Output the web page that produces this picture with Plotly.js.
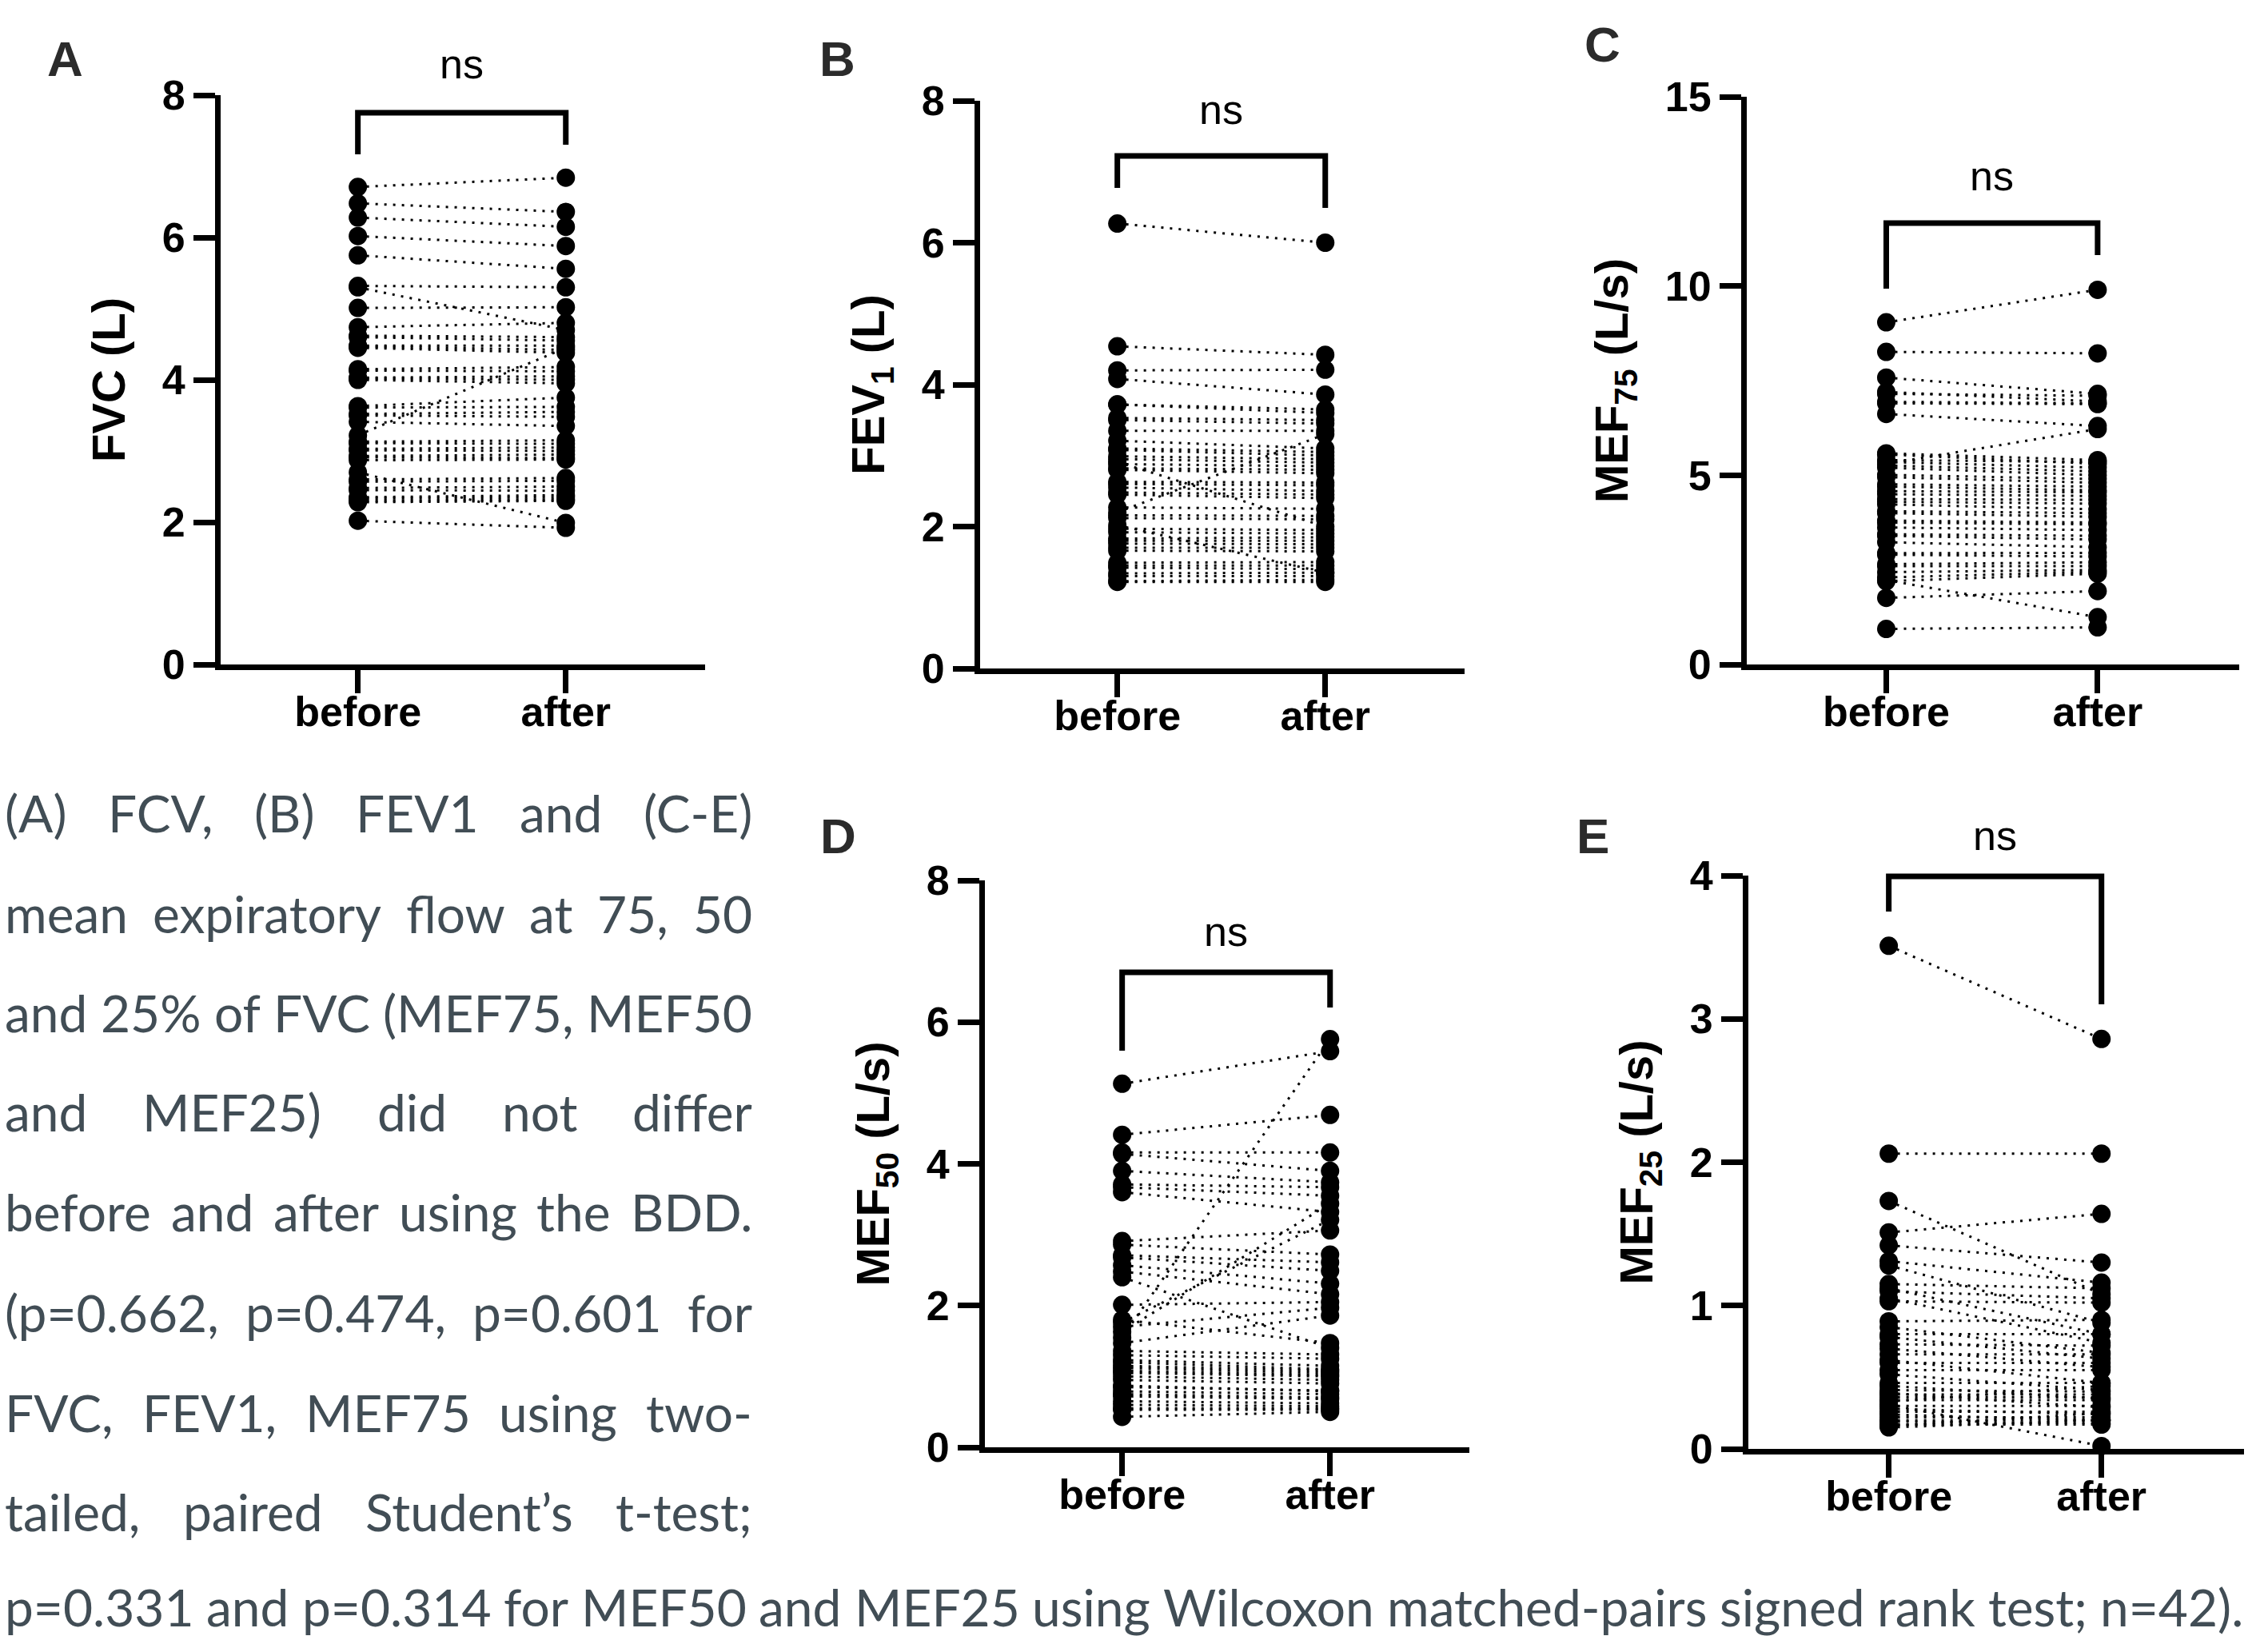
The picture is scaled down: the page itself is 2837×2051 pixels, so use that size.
<!DOCTYPE html>
<html>
<head>
<meta charset="utf-8">
<script src="https://cdn.plot.ly/plotly-3.0.1.min.js"></script>
<style>html,body{margin:0;padding:0;background:#fff;}</style>
</head>
<body>
<div id="chart" style="width:2837px;height:2051px;"></div>
<svg id="meas" width="10" height="10" style="position:absolute;left:-9999px;top:0;"><text id="measText" x="0" y="5"></text></svg>
<script>
// ---------------- DATA ----------------
const groups = ['before', 'after'];

const fvcBefore = [6.71, 6.48, 6.28, 6.02, 5.75, 5.32, 5.30, 5.01,
  4.74, 4.62, 4.60, 4.48, 4.47, 4.45,
  4.15, 4.13, 4.03, 4.02, 4.00,
  3.63, 3.61, 3.52, 3.50, 3.41,
  3.22, 3.13, 3.11, 3.03, 3.01, 2.93, 2.91, 2.87,
  2.70, 2.60, 2.57, 2.48, 2.45, 2.35, 2.33, 2.30, 2.28,
  2.02];
const fvcAfter = [6.84, 6.36, 6.15, 5.88, 5.56, 5.30, 4.70, 5.02,
  4.80, 4.60, 4.55, 4.48, 4.42, 4.38,
  4.18, 4.12, 4.05, 4.00, 3.95,
  3.75, 3.62, 3.55, 3.48, 3.35,
  4.45, 3.15, 3.10, 3.05, 3.00, 2.95, 2.90, 2.88,
  1.99, 2.62, 2.58, 2.50, 2.44, 2.38, 2.35, 2.32, 2.30,
  1.92];

const fev1Before = [6.27, 4.54, 4.20, 4.08,
  3.72, 3.72, 3.53, 3.50, 3.35, 3.21, 3.10, 3.08, 2.99, 2.95,
  2.91, 2.88, 2.82, 2.80, 2.63, 2.60, 2.55, 2.48, 2.45, 2.27,
  2.16, 2.12, 2.02, 1.97, 1.92, 1.83, 1.80, 1.76, 1.70, 1.66,
  1.49, 1.45, 1.42, 1.34, 1.30, 1.23, 1.22, 2.20];
const fev1After = [6.00, 4.42, 4.21, 3.86,
  3.65, 3.60, 3.50, 3.45, 3.35, 3.10, 3.05, 3.00, 2.95, 2.90,
  2.00, 2.85, 2.80, 2.75, 2.62, 2.58, 2.50, 2.45, 2.40, 2.25,
  2.15, 2.10, 1.35, 1.95, 1.90, 1.85, 1.80, 1.75, 1.70, 1.65,
  1.50, 1.45, 1.40, 1.35, 1.30, 1.25, 1.22, 3.30];

const mef75Before = [9.04, 8.26, 7.58, 7.20, 7.15, 6.94, 6.90, 6.62,
  5.58, 5.55, 5.40, 5.35, 5.26, 5.20, 5.01, 4.95, 4.76, 4.70,
  4.58, 4.50, 4.37, 4.30, 4.23, 4.05, 4.00, 3.80, 3.75, 3.62,
  3.44, 3.40, 3.23, 2.94, 2.90, 2.65, 2.60, 2.44, 2.30, 2.23,
  2.20, 5.30, 1.76, 0.94];
const mef75After = [9.90, 8.22, 7.15, 6.95, 7.10, 6.90, 6.88, 6.30,
  5.40, 5.30, 5.35, 5.20, 5.10, 5.00, 4.90, 4.80, 4.70, 4.60,
  4.55, 4.45, 4.35, 4.25, 4.10, 4.00, 3.90, 3.75, 3.70, 3.55,
  3.40, 3.30, 3.10, 2.95, 2.85, 2.70, 2.60, 2.50, 2.45, 1.25,
  2.40, 6.22, 1.94, 0.98];

const mef50Before = [5.13, 4.41, 4.16, 4.14, 3.90, 3.71, 3.67, 3.60,
  2.91, 2.86, 2.71, 2.68, 2.57, 2.48, 2.40,
  2.01, 1.76, 1.70, 1.63, 1.55, 1.47, 1.36, 1.30, 1.23, 1.20,
  1.15, 1.12, 1.08, 1.05, 1.00, 0.95, 0.87, 0.85, 0.79, 0.75,
  0.72, 0.65, 0.60, 0.55, 0.53, 0.43, 1.80];
const mef50After = [5.59, 4.69, 4.16, 3.90, 3.74, 3.67, 3.55, 3.32,
  3.06, 2.72, 2.61, 2.49, 2.31, 2.16, 1.40,
  2.05, 3.21, 1.97, 3.44, 5.76, 1.86, 1.31, 1.25, 1.15, 1.10,
  1.08, 1.05, 1.02, 1.00, 0.95, 0.90, 0.79, 0.80, 0.75, 0.70,
  0.68, 0.62, 0.58, 0.55, 0.53, 0.50, 1.47];

const mef25Before = [3.51, 2.06, 1.73, 1.51, 1.42, 1.31, 1.28,
  1.15, 1.12, 1.10, 1.05, 1.03,
  0.89, 0.85, 0.80, 0.78, 0.73, 0.70, 0.66, 0.62, 0.60, 0.55, 0.52,
  0.46, 0.44, 0.41, 0.39, 0.36, 0.34, 0.31, 0.30, 0.28, 0.26,
  0.24, 0.22, 0.20, 0.19, 0.17, 0.16, 0.15, 0.38, 0.33];
const mef25After = [2.86, 2.06, 1.08, 1.64, 1.30, 1.16, 0.88,
  1.12, 0.80, 1.05, 0.74, 1.02,
  0.90, 0.67, 0.80, 0.63, 0.72, 0.57, 0.66, 0.46, 0.60, 0.55, 0.41,
  0.46, 0.35, 0.40, 0.29, 0.36, 0.34, 0.02, 0.30, 0.24, 0.26,
  0.20, 0.22, 0.20, 0.18, 0.17, 0.25, 0.20, 0.38, 0.44];

const panelLetters = ['A', 'B', 'C', 'D', 'E'];
const yTitles = ['FVC (L)', 'FEV<sub>1</sub> (L)', 'MEF<sub>75</sub> (L/s)',
                 'MEF<sub>50</sub> (L/s)', 'MEF<sub>25</sub> (L/s)'];
const yMax = [8, 8, 15, 8, 4];
const yStep = [2, 2, 5, 2, 1];
const sigLabels = ['ns', 'ns', 'ns', 'ns', 'ns'];

const captionLines = [
  '(A) FCV, (B) FEV1 and (C-E)',
  'mean expiratory flow at 75, 50',
  'and 25% of FVC (MEF75, MEF50',
  'and MEF25) did not differ',
  'before and after using the BDD.',
  '(p=0.662, p=0.474, p=0.601 for',
  'FVC, FEV1, MEF75 using two-',
  'tailed, paired Student\u2019s t-test;',
  'p=0.331 and p=0.314 for MEF50 and MEF25 using Wilcoxon matched-pairs signed rank test; n=42).'
];

const beforeSeries = [fvcBefore, fev1Before, mef75Before, mef50Before, mef25Before];
const afterSeries = [fvcAfter, fev1After, mef75After, mef50After, mef25After];

// ---------------- LAYOUT GEOMETRY (pixels) ----------------
const W = 2837, H = 2051;
const boxes = [
  {x0: 276,  x1: 882,  yTop: 119,  yBot: 831},
  {x0: 1226, x1: 1832, yTop: 126,  yBot: 836},
  {x0: 2185, x1: 2801, yTop: 121,  yBot: 831},
  {x0: 1232, x1: 1838, yTop: 1101, yBot: 1810},
  {x0: 2187, x1: 2807, yTop: 1095, yBot: 1812}
];
const brackets = [
  {top: 141,  left: 193,  right: 181,  ns: 80},
  {top: 195,  left: 235,  right: 260,  ns: 137},
  {top: 279,  left: 361,  right: 319,  ns: 220},
  {top: 1216, left: 1314, right: 1260, ns: 1165},
  {top: 1096, left: 1140, right: 1256, ns: 1045}
];
const letterPos = [[81, 74], [1047, 74], [2004, 56], [1048, 1045], [1992, 1045]];
const xRange = [-0.66, 1.67];

const FONT = 'Liberation Sans, Arial, sans-serif';
const px2paperX = v => v / W;
const px2paperY = v => 1 - v / H;

const traces = [];
const layout = {
  width: W, height: H,
  margin: {l: 0, r: 0, t: 0, b: 0},
  paper_bgcolor: '#ffffff',
  plot_bgcolor: 'rgba(0,0,0,0)',
  showlegend: false,
  shapes: [],
  annotations: []
};

boxes.forEach((b, i) => {
  const n = i === 0 ? '' : String(i + 1);
  const xa = 'x' + n, ya = 'y' + n;
  const bef = beforeSeries[i], aft = afterSeries[i];

  const lx = [], ly = [];
  for (let j = 0; j < bef.length; j++) {
    lx.push(groups[0], groups[1], null);
    ly.push(bef[j], aft[j], null);
  }
  traces.push({
    x: lx, y: ly, mode: 'lines', xaxis: xa, yaxis: ya,
    line: {color: '#000', width: 3, dash: '3px,8px'},
    connectgaps: false, hoverinfo: 'skip'
  });
  traces.push({
    x: bef.map(() => groups[0]).concat(aft.map(() => groups[1])),
    y: bef.concat(aft), mode: 'markers', xaxis: xa, yaxis: ya,
    marker: {size: 23, color: '#000'}, cliponaxis: false, hoverinfo: 'skip'
  });

  layout['xaxis' + n] = {
    domain: [px2paperX(b.x0), px2paperX(b.x1)],
    anchor: ya, type: 'category', categoryarray: groups, categoryorder: 'array',
    range: xRange, fixedrange: true,
    showline: true, linewidth: 7, linecolor: '#000', mirror: false,
    ticks: 'outside', ticklen: 29, tickwidth: 7, tickcolor: '#000',
    showgrid: false, zeroline: false,
    tickfont: {family: FONT, size: 52, color: '#000', weight: 'bold'},
    ticklabelstandoff: -21
  };
  layout['yaxis' + n] = {
    domain: [px2paperY(b.yBot), px2paperY(b.yTop)],
    anchor: xa, range: [0, yMax[i]], dtick: yStep[i], tick0: 0,
    showline: true, linewidth: 7, linecolor: '#000',
    ticks: 'outside', ticklen: 27, tickwidth: 7, tickcolor: '#000',
    showgrid: false, zeroline: false, fixedrange: true,
    tickfont: {family: FONT, size: 52, color: '#000', weight: 'bold'},
    title: {text: yTitles[i], standoff: 30,
            font: {family: FONT, size: 58, color: '#000', weight: 'bold'}}
  };

  // significance bracket (paper coordinates derived from the panel box)
  const xd = v => b.x0 + (v - xRange[0]) / (xRange[1] - xRange[0]) * (b.x1 - b.x0);
  const bx0 = px2paperX(xd(0)), bx1 = px2paperX(xd(1));
  const br = brackets[i];
  layout.shapes.push({
    type: 'path', xref: 'paper', yref: 'paper',
    path: 'M ' + bx0 + ',' + px2paperY(br.left) + ' L ' + bx0 + ',' + px2paperY(br.top) +
          ' L ' + bx1 + ',' + px2paperY(br.top) + ' L ' + bx1 + ',' + px2paperY(br.right),
    line: {color: '#000', width: 7}
  });
  layout.annotations.push({
    xref: 'paper', yref: 'paper', x: (bx0 + bx1) / 2, y: px2paperY(br.ns),
    xanchor: 'center', yanchor: 'middle', showarrow: false,
    text: sigLabels[i], font: {family: FONT, size: 52, color: '#000'}
  });
  layout.annotations.push({
    xref: 'paper', yref: 'paper', x: px2paperX(letterPos[i][0]), y: px2paperY(letterPos[i][1]),
    xanchor: 'center', yanchor: 'middle', showarrow: false,
    text: panelLetters[i], font: {family: FONT, size: 62, color: '#2b2b2b', weight: 'bold'}
  });
});

// ---------------- CAPTION (justified word by word) ----------------
const CAP_FONT = 'Lato';
const CAP_COLOR = '#414d55';
const capBaselines = [1041, 1167, 1291, 1415, 1540, 1666, 1791, 1915, 2034];
const capLeft = 5;
const capRights = [940, 940, 940, 940, 940, 940, 940, 940, 2805];
const measEl = document.getElementById('measText');
function tw(t, s) {
  measEl.setAttribute('style', 'font-family:' + CAP_FONT + ';font-size:' + s + 'px;');
  measEl.textContent = t;
  return measEl.getComputedTextLength();
}
// one common size: the largest at which every line fits with a normal word gap
let capSize = 70;
while (capSize > 30) {
  const fits = captionLines.every((line, k) => {
    const words = line.split(' ');
    const tot = words.reduce((acc, w) => acc + tw(w, capSize), 0);
    return tot + (words.length - 1) * 0.24 * capSize <= capRights[k] - capLeft;
  });
  if (fits) break;
  capSize -= 0.5;
}
captionLines.forEach((line, k) => {
  const words = line.split(' ');
  const widths = words.map(w => tw(w, capSize));
  const tot = widths.reduce((acc, v) => acc + v, 0);
  const gap = words.length > 1 ? (capRights[k] - capLeft - tot) / (words.length - 1) : 0;
  let xcur = capLeft;
  const yc = capBaselines[k] - 0.39 * capSize;
  words.forEach((w, m) => {
    layout.annotations.push({
      xref: 'paper', yref: 'paper', x: px2paperX(xcur), y: px2paperY(yc),
      xanchor: 'left', yanchor: 'middle', showarrow: false, borderpad: 0,
      text: w, font: {family: CAP_FONT, size: capSize, color: CAP_COLOR}
    });
    xcur += widths[m] + gap;
  });
});
document.getElementById('meas').remove();

Plotly.newPlot('chart', traces, layout, {staticPlot: true, displayModeBar: false, responsive: false});
</script>
</body>
</html>
